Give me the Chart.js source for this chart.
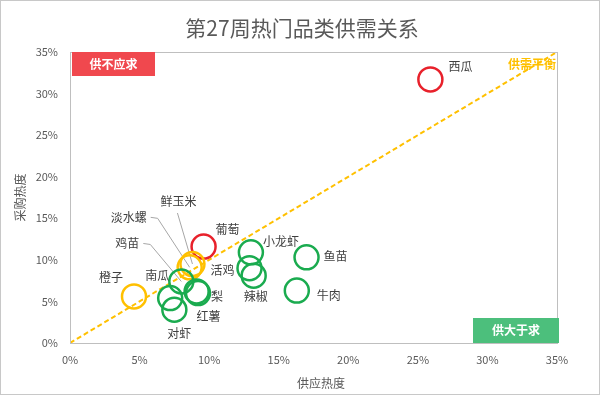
<!DOCTYPE html>
<html>
<head>
<meta charset="utf-8">
<script src="https://cdn.jsdelivr.net/npm/chart.js@4.4.0/dist/chart.umd.min.js"></script>
<style>
  html, body { margin: 0; padding: 0; background: #fff; }
</style>
</head>
<body>
<canvas id="gxChart" width="600" height="395"></canvas>
<script>
// 第27周热门品类供需关系 - 气泡散点

const names  = ['西瓜', '葡萄', '鲜玉米', '淡水螺', '鸡苗', '橙子', '南瓜', '梨', '红薯', '对虾', '小龙虾', '活鸡', '辣椒', '鱼苗', '牛肉'];
const supply = [25.9, 9.6, 8.8, 8.6, 8.0, 4.6, 7.2, 9.2, 9.1, 7.5, 13.0, 12.9, 13.2, 17.0, 16.3];  // 供应热度 %
const demand = [31.7, 11.6, 9.5, 9.1, 7.4, 5.6, 5.4, 6.0, 6.2, 4.0, 10.9, 9.0, 8.1, 10.3, 6.3];   // 采购热度 %
const status = ['short', 'short', 'even', 'even', 'over', 'even', 'over', 'over', 'over', 'over', 'over', 'over', 'over', 'over', 'over'];
const axisTicks = [0, 5, 10, 15, 20, 25, 30, 35];
const balance = [0, 35];

// label placement, px from the point; leader: 'h' = from right side, 'v' = from below
const labelPos = {
  '西瓜': [30, -13], '葡萄': [24, -17], '鲜玉米': [-14, -63, 'v'], '淡水螺': [-61, -50, 'h'],
  '鸡苗': [-54, -38, 'h'], '橙子': [-23, -19], '南瓜': [-13, -23], '梨': [19, 3],
  '红薯': [12, 25], '对虾': [5, 24], '小龙虾': [30, -11], '活鸡': [-27, 2],
  '辣椒': [2, 21], '鱼苗': [29, -1], '牛肉': [32, 5]
};

const colors = { short: '#e8212b', even: '#ffc000', over: '#1aab4f' };
const FONT = "'Noto Sans CJK SC', 'Noto Sans', sans-serif";
const grey = '#595959';

const pointLabels = {
  id: 'pointLabels',
  beforeDatasetsDraw(chart) {
    // leader lines under the circles
    const ctx = chart.ctx;
    const meta = chart.getDatasetMeta(0);
    ctx.save();
    ctx.font = '12px ' + FONT;
    ctx.strokeStyle = '#a6a6a6';
    ctx.lineWidth = 1;
    meta.data.forEach((pt, i) => {
      const p = labelPos[names[i]];
      if (!p || !p[2]) return;
      const lx = pt.x + p[0], ly = pt.y + p[1];
      const w = ctx.measureText(names[i]).width;
      ctx.beginPath();
      if (p[2] === 'h') {
        ctx.moveTo(lx + w / 2 + 4, ly);
        ctx.lineTo(lx + w / 2 + 11, ly + 1);
      } else {
        ctx.moveTo(lx - 1, ly + 12);
      }
      ctx.lineTo(pt.x, pt.y);
      ctx.stroke();
    });
    ctx.restore();
  },
  afterDatasetsDraw(chart) {
    const ctx = chart.ctx;
    const meta = chart.getDatasetMeta(0);
    ctx.save();
    ctx.font = '12px ' + FONT;
    ctx.fillStyle = '#404040';
    ctx.textAlign = 'center';
    ctx.textBaseline = 'middle';
    meta.data.forEach((pt, i) => {
      const p = labelPos[names[i]] || [20, 0];
      ctx.fillText(names[i], pt.x + p[0], pt.y + p[1]);
    });
    ctx.restore();
  }
};

const frame = {
  id: 'frame',
  afterDraw(chart) {
    const { ctx, chartArea: a } = chart;
    ctx.save();
    // title
    ctx.font = '21px ' + FONT;
    ctx.fillStyle = grey;
    ctx.textAlign = 'center';
    ctx.textBaseline = 'middle';
    ctx.fillText('第27周热门品类供需关系', chart.width / 2 + 2, 28);
    // x axis title
    ctx.font = '12px ' + FONT;
    ctx.fillText('供应热度', 321, 383);
    // plot border
    ctx.strokeStyle = '#bfbfbf';
    ctx.lineWidth = 1;
    ctx.strokeRect(Math.round(a.left) + 0.5, Math.round(a.top) + 0.5, Math.round(a.right - a.left), Math.round(a.bottom - a.top));
    // quadrant tags
    ctx.font = 'bold 12px ' + FONT;
    ctx.fillStyle = '#f0484e';
    ctx.fillRect(a.left + 2, a.top, 83, 24);
    ctx.fillStyle = '#fff';
    ctx.fillText('供不应求', a.left + 43.5, a.top + 12);
    ctx.fillStyle = '#4cbf7c';
    ctx.fillRect(a.right - 84, a.bottom - 25, 86, 25);
    ctx.fillStyle = '#fff';
    ctx.fillText('供大于求', a.right - 41, a.bottom - 12.5);
    ctx.fillStyle = '#ffc000';
    ctx.textAlign = 'right';
    ctx.fillText('供需平衡', a.right - 1, a.top + 12);
    // outer frame
    ctx.strokeStyle = '#c8c8c8';
    ctx.strokeRect(0.5, 0.5, chart.width - 1, chart.height - 1);
    ctx.restore();
  }
};

const ctx = document.getElementById('gxChart');
const gxChart = new Chart(ctx, {
  type: 'scatter',
  data: {
    datasets: [{
      label: '品类',
      data: names.map((n, i) => ({ x: supply[i], y: demand[i] })),
      pointRadius: 12,
      pointHoverRadius: 12,
      pointBorderWidth: 2.5,
      pointBackgroundColor: 'rgba(0,0,0,0)',
      pointBorderColor: status.map(s => colors[s])
    }, {
      type: 'line',
      label: '供需平衡',
      data: balance.map(v => ({ x: v, y: v })),
      borderColor: '#ffc000',
      borderWidth: 2,
      borderDash: [5, 3],
      pointRadius: 0,
      fill: false
    }]
  },
  options: {
    responsive: false,
    animation: false,
    layout: { padding: { left: 0, right: 43, top: 52, bottom: 0 } },
    plugins: {
      legend: { display: false },
      tooltip: { enabled: false },
      title: { display: false }
    },
    scales: {
      x: {
        type: 'linear',
        min: 0, max: 35,
        afterFit: s => { s.height = 52; },
        afterBuildTicks: s => { s.ticks = axisTicks.map(v => ({ value: v })); },
        grid: { display: false, drawTicks: false },
        border: { display: true, color: '#bfbfbf' },
        ticks: { color: grey, padding: 10, font: { family: FONT, size: 11 }, callback: v => v + '%' },
        title: { display: false }
      },
      y: {
        type: 'linear',
        min: 0, max: 35,
        afterFit: s => { s.width = 70; },
        afterBuildTicks: s => { s.ticks = axisTicks.map(v => ({ value: v })); },
        grid: { display: false, drawTicks: false },
        border: { display: true, color: '#bfbfbf' },
        ticks: { color: grey, padding: 12, font: { family: FONT, size: 11 }, callback: v => v + '%' },
        title: { display: true, text: '采购热度', color: grey, font: { family: FONT, size: 12 }, padding: { top: 13, bottom: 0 } }
      }
    }
  },
  plugins: [pointLabels, frame]
});
</script>
</body>
</html>
